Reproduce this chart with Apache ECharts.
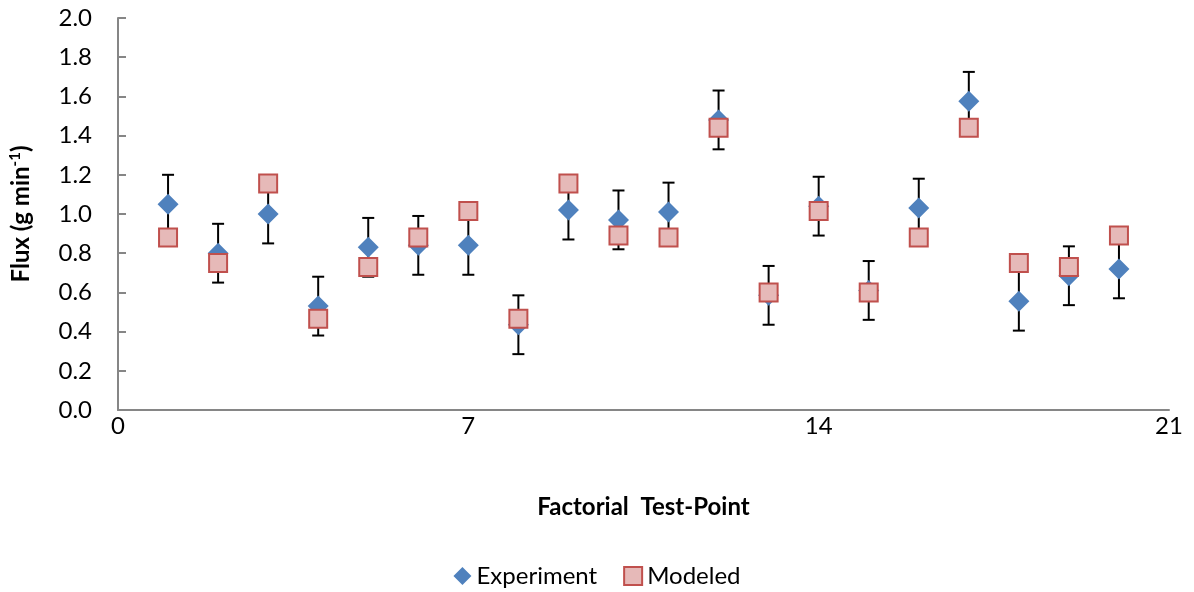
<!DOCTYPE html>
<html>
<head>
<meta charset="utf-8">
<script src="https://cdn.jsdelivr.net/npm/echarts@6/dist/echarts.min.js"></script>
<style>
  html, body { margin: 0; padding: 0; background: #fff; }
  #chart { width: 1194px; height: 592px; }
</style>
</head>
<body>
<div id="chart"></div>
<script>
// Factorial test points 1..20
const testPoints = [1, 2, 3, 4, 5, 6, 7, 8, 9, 10, 11, 12, 13, 14, 15, 16, 17, 18, 19, 20];
// Measured flux (g/min)
const experiment = [1.05, 0.80, 1.00, 0.53, 0.83, 0.84, 0.84, 0.435, 1.02, 0.97, 1.01, 1.48, 0.585, 1.04, 0.61, 1.03, 1.575, 0.555, 0.685, 0.72];
// Error of each measurement (+/-)
const experimentErr = [0.15, 0.15, 0.15, 0.15, 0.15, 0.15, 0.15, 0.15, 0.15, 0.15, 0.15, 0.15, 0.15, 0.15, 0.15, 0.15, 0.15, 0.15, 0.15, 0.15];
// Model prediction (g/min)
const modeled = [0.88, 0.75, 1.155, 0.465, 0.73, 0.88, 1.015, 0.465, 1.155, 0.89, 0.88, 1.44, 0.60, 1.015, 0.60, 0.88, 1.44, 0.75, 0.73, 0.89];

const FONT = 'Lato, "Open Sans", sans-serif';

const chart = echarts.init(document.getElementById('chart'));

const expData = testPoints.map((x, i) => [x, experiment[i]]);
const modData = testPoints.map((x, i) => [x, modeled[i]]);
const errData = testPoints.map((x, i) => [x, experiment[i] - experimentErr[i], experiment[i] + experimentErr[i]]);

chart.setOption({
  animation: false,
  backgroundColor: '#ffffff',
  grid: { left: 115, right: 25, top: 18, bottom: 182 },
  legend: {
    bottom: -1,
    left: 'center',
    itemGap: 26,
    itemWidth: 18,
    itemHeight: 18,
    textStyle: { fontFamily: FONT, fontSize: 24, color: '#000' },
    data: [
      { name: 'Experiment', icon: 'diamond' },
      { name: 'Modeled', icon: 'rect' }
    ]
  },
  xAxis: {
    type: 'value',
    min: 0, max: 21, interval: 7,
    name: 'Factorial  Test-Point',
    nameLocation: 'middle',
    nameGap: 85,
    nameTextStyle: { fontFamily: FONT, fontSize: 24, fontWeight: 'bold', color: '#000' },
    axisLine: { show: true, onZero: false, lineStyle: { color: '#868686', width: 2 } },
    axisTick: { show: false },
    axisLabel: { fontFamily: FONT, fontSize: 24, color: '#000', margin: 4 },
    splitLine: { show: false }
  },
  yAxis: {
    type: 'value',
    min: 0, max: 2, interval: 0.2,
    name: '{t|Flux (g min}{s|-1}{t|)}',
    nameLocation: 'middle',
    nameRotate: 90,
    nameGap: 83,
    nameTextStyle: {
      rich: {
        t: { fontFamily: FONT, fontSize: 24, fontWeight: 'bold', color: '#000' },
        s: { fontFamily: FONT, fontSize: 15, fontWeight: 'bold', color: '#000', verticalAlign: 'top', padding: [0, 0, 12, 0] }
      }
    },
    axisLine: { show: true, lineStyle: { color: '#868686', width: 2 } },
    axisTick: { show: true, inside: true, length: 8, lineStyle: { color: '#868686', width: 2 } },
    axisLabel: { fontFamily: FONT, fontSize: 24, color: '#000', margin: 26, formatter: v => v.toFixed(1) },
    splitLine: { show: false }
  },
  series: [
    {
      name: 'errorbars',
      type: 'custom',
      z: 1,
      silent: true,
      data: errData,
      encode: { x: 0, y: [1, 2] },
      renderItem: function (params, api) {
        const x = api.value(0);
        const lo = api.coord([x, api.value(1)]);
        const hi = api.coord([x, api.value(2)]);
        const half = 6;
        const style = { stroke: '#000', lineWidth: 2, fill: null };
        return {
          type: 'group',
          children: [
            { type: 'line', shape: { x1: lo[0], y1: lo[1], x2: hi[0], y2: hi[1] }, style },
            { type: 'line', shape: { x1: lo[0] - half, y1: lo[1], x2: lo[0] + half, y2: lo[1] }, style },
            { type: 'line', shape: { x1: hi[0] - half, y1: hi[1], x2: hi[0] + half, y2: hi[1] }, style }
          ]
        };
      }
    },
    {
      name: 'Experiment',
      type: 'scatter',
      z: 2,
      symbol: 'diamond',
      symbolSize: 21,
      itemStyle: { color: '#4F81BD', opacity: 1 },
      data: expData
    },
    {
      name: 'Modeled',
      type: 'scatter',
      z: 3,
      symbol: 'rect',
      symbolSize: 18,
      itemStyle: { color: '#E6B9B8', borderColor: '#C0504D', borderWidth: 2, opacity: 1 },
      data: modData
    }
  ]
});
</script>
</body>
</html>
